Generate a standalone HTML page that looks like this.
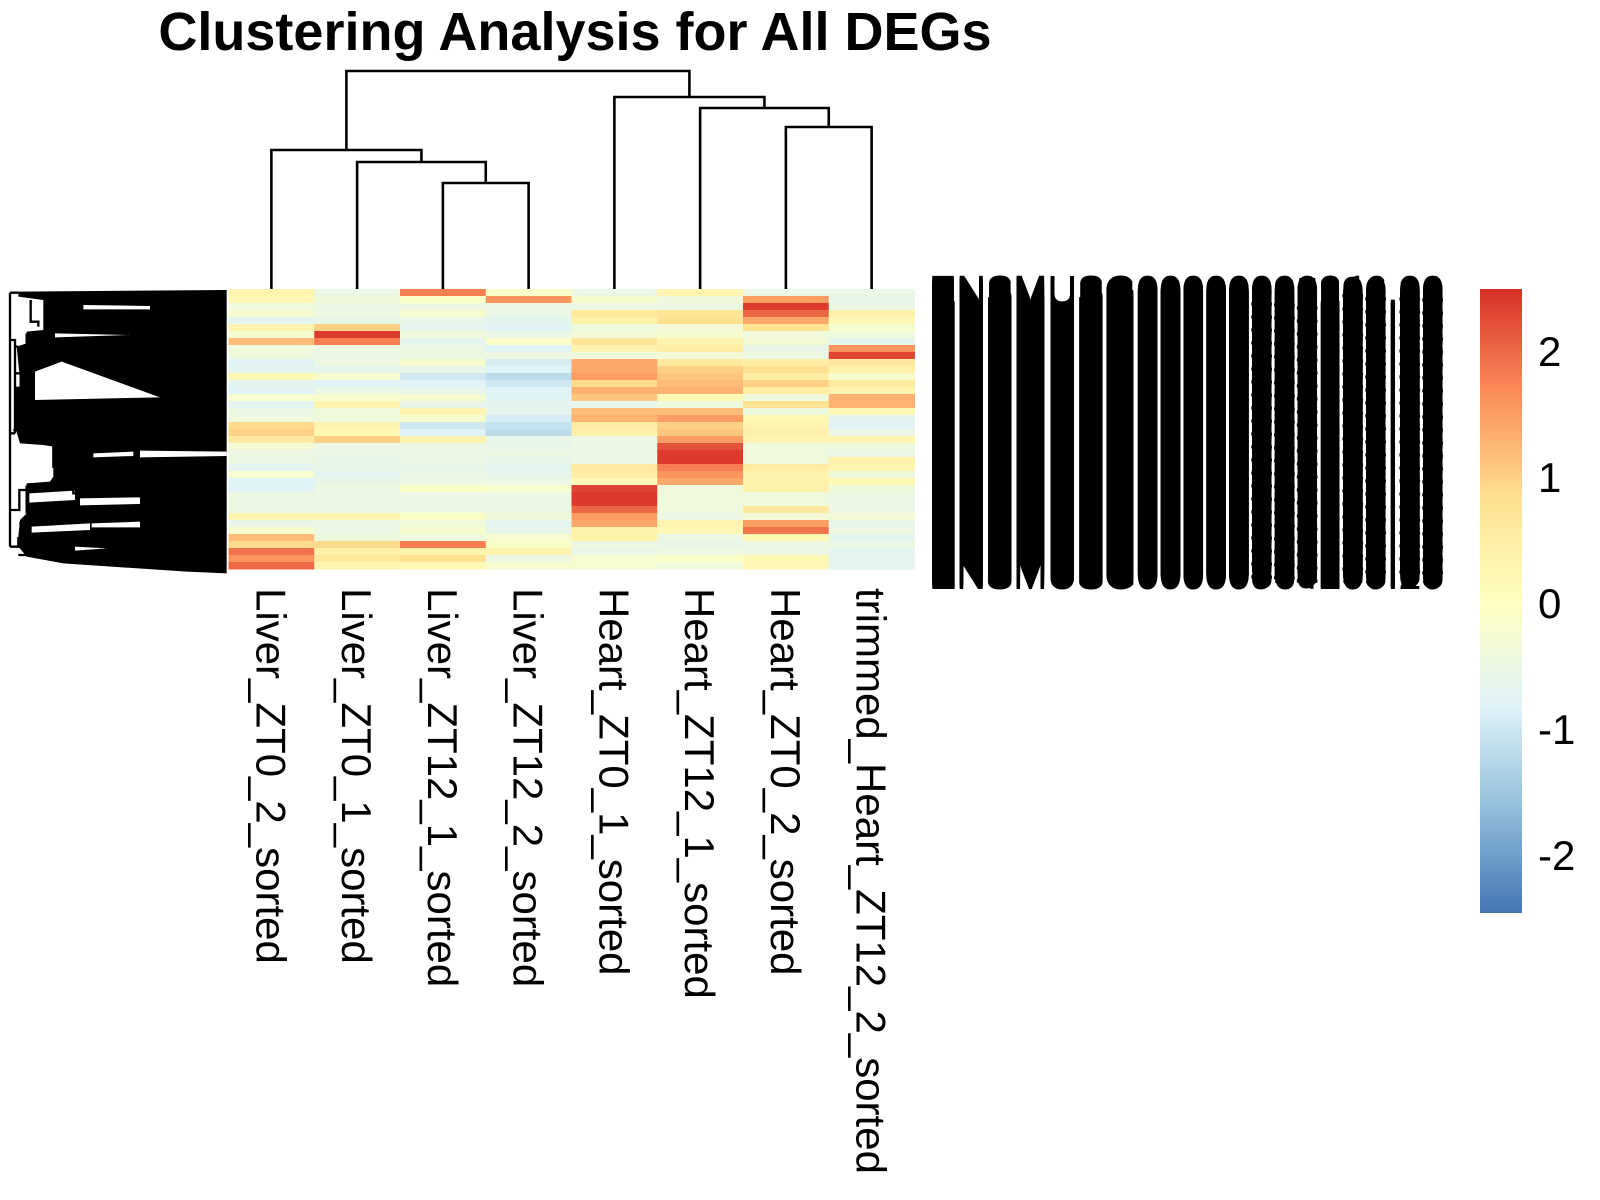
<!DOCTYPE html>
<html><head><meta charset="utf-8"><title>Clustering Analysis for All DEGs</title>
<style>html,body{margin:0;padding:0;background:#fff}svg{display:block}text{font-family:"Liberation Sans",Arial,sans-serif}</style>
</head><body>
<svg id="chart" xmlns="http://www.w3.org/2000/svg" width="1600" height="1200" viewBox="0 0 1600 1200">
<rect width="1600" height="1200" fill="#fff"/>
<text x="575" y="50" font-size="54" font-weight="bold" text-anchor="middle" fill="#000">Clustering Analysis for All DEGs</text>
<g id="rowDendro" transform="translate(0,280) scale(0.33333)">
  <polygon fill="#000" points="55,35 680,30 680,880 560,875 190,850 80,830 55,800 55,770 60,720 80,700 80,610 150,605 160,590 160,500 130,495 60,490 45,440 45,320 62,320 50,200 80,190 80,155 130,150 130,60 55,50"/>
  <polygon fill="#fff" points="105,275 185,245 480,352 105,360"/>
  <polygon fill="#fff" points="420,512 680,515 680,528 420,532"/>
  <polygon fill="#fff" points="88,640 225,632 225,660 88,668"/>
  <polygon fill="#fff" points="240,655 420,652 420,672 240,676"/>
  <polygon fill="#fff" points="250,75 450,78 450,88 250,88"/>
  <polygon fill="#fff" points="165,160 390,165 165,172"/>
  <polygon fill="#fff" points="95,740 270,730 270,750 95,758"/>
  <polygon fill="#fff" points="275,730 420,725 420,742 275,742"/>
  <polygon fill="#fff" points="225,800 320,805 225,812"/>
  <polygon fill="#fff" points="280,520 400,515 400,528 280,532"/>
  <g stroke="#000" stroke-width="7" fill="none">
    <path d="M30,38 V800 M30,38 H55 M30,180 H45 V460 M45,200 H55 M45,280 H62 V380 H100 M30,460 H45 M40,450 H62 V480 H90"/>
    <path d="M30,690 H58 V630 H80 V620 H145 M58,730 H80 M80,620 V700 M30,800 H55 V775 H80 M55,825 H90 M92,60 V125 H115 V140 M80,160 V190 H160"/>
    <path d="M150,620 H220 V640 H420 M230,640 V690 M160,500 V560 H220 V580 M220,520 H280"/>
  </g>
</g>
<g id="heat"></g>
<g id="colDendro"></g>
<g id="colLabels"></g>
<g id="rowLabels"></g>
<defs>
  <linearGradient id="lg" x1="0" y1="0" x2="0" y2="1">
    <stop offset="0" stop-color="#D73027"/><stop offset="0.1667" stop-color="#FC8D59"/>
    <stop offset="0.3333" stop-color="#FEE090"/><stop offset="0.5" stop-color="#FFFFBF"/>
    <stop offset="0.6667" stop-color="#E0F3F8"/><stop offset="0.8333" stop-color="#91BFDB"/>
    <stop offset="1" stop-color="#4575B4"/>
  </linearGradient>
</defs>
<g id="legend">
  <rect x="1480" y="289" width="42" height="624" fill="url(#lg)"/>
</g>
</svg>
<script>
const NS = "http://www.w3.org/2000/svg";
const sampleNames = ["Liver_ZT0_2_sorted","Liver_ZT0_1_sorted","Liver_ZT12_1_sorted","Liver_ZT12_2_sorted","Heart_ZT0_1_sorted","Heart_ZT12_1_sorted","Heart_ZT0_2_sorted","trimmed_Heart_ZT12_2_sorted"];
const liverZT0_2 = [0.3,0.2,-0.4,-0.2,-0.7,0.3,-0.2,1.2,-0.4,-0.4,-0.8,-0.7,0.2,-0.7,-0.8,-0.2,-0.7,-0.5,-0.4,0.9,1.0,0.6,-0.3,-0.5,-0.5,-0.7,-0.2,-0.8,-0.8,-0.5,-0.5,-0.5,0.3,-0.6,-0.2,1.2,0.9,1.9,1.6,2.0];
const liverZT0_1 = [-0.5,-0.4,-0.5,-0.5,-0.6,1.0,2.4,1.8,-0.5,-0.5,-0.5,-0.7,-0.2,-0.8,-0.5,-0.2,0.3,-0.4,-0.4,0.3,0.2,1.0,-0.5,-0.5,-0.6,-0.6,-0.7,-0.6,-0.5,-0.5,-0.5,-0.5,0.3,-0.5,-0.5,-0.4,0.9,0.4,0.6,0.3];
const liverZT12_1 = [1.8,-0.1,-0.5,-0.2,-0.6,-0.7,-0.4,-0.7,-0.5,-0.5,-0.2,-0.6,-1.0,-0.8,-0.6,-0.2,-0.6,0.3,-0.2,-1.0,-0.8,0.3,-0.5,-0.5,-0.5,-0.6,-0.5,-0.5,-0.1,-0.5,-0.5,-0.5,-0.1,-0.4,-0.2,-0.4,1.8,0.3,0.8,0.2];
const liverZT12_2 = [-0.1,1.6,-0.5,-0.5,-0.7,-0.8,-0.5,-0.1,-0.8,-0.5,-0.9,-0.8,-1.2,-1.0,-0.8,-0.8,-0.7,-0.7,-0.9,-1.1,-1.2,-0.6,-0.6,-0.5,-0.6,-0.7,-0.6,-0.5,-0.2,-0.5,-0.5,-0.5,-0.4,-0.7,-0.6,-0.2,-0.1,0.3,-0.5,-0.2];
const heartZT0_1 = [-0.5,-0.2,-0.5,0.6,0.4,-0.4,-0.3,0.7,0.3,-0.4,1.4,1.4,1.5,0.9,1.3,1.1,-0.6,1.2,1.3,0.5,0.4,-0.5,-0.5,-0.5,-0.5,0.6,0.5,0.2,2.3,2.4,2.4,2.0,1.5,1.4,0.4,0.4,-0.5,-0.6,-0.2,-0.2];
const heartZT12_1 = [0.3,-0.4,-0.5,0.7,0.8,-0.3,-0.2,0.3,0.5,-0.3,0.6,1.0,1.1,1.2,1.3,0.2,-0.4,1.2,1.5,1.0,1.1,1.5,2.2,2.4,2.4,1.8,1.6,1.4,-0.4,-0.4,-0.4,-0.4,-0.5,0.3,0.2,-0.5,-0.6,-0.5,-0.1,-0.4];
const heartZT0_2 = [-0.5,1.5,2.4,2.0,1.4,0.8,-0.4,-0.3,-0.6,-0.5,0.5,0.8,0.5,1.0,0.5,-0.4,0.8,-0.4,0.2,0.3,0.4,0.3,-0.4,-0.4,-0.4,0.5,0.3,0.4,0.4,-0.4,-0.4,0.6,-0.3,1.5,1.9,0.2,-0.5,-0.5,0.2,0.2];
const heartZT12_2 = [-0.5,-0.6,-0.5,0.4,0.2,-0.2,-0.4,-0.7,1.6,2.3,0.6,0.4,-0.2,0.6,0.3,1.3,1.3,0.2,-0.7,-0.8,-0.5,0.3,-0.4,-0.5,0.4,0.3,-0.4,0.2,-0.4,-0.5,-0.5,-0.5,-0.3,-0.6,-0.5,-0.7,-0.5,-0.7,-0.7,-0.7];
const legendTicks = [2,1,0,-1,-2];
const legendMin = -2.46, legendMax = 2.49;
const mergeA = [-3,-2,-1,-7,-6,-5,3];
const mergeB = [-4,1,2,-8,4,5,6];
const mergeHeights = [106,127,139,162,181,192,218];

const series = [liverZT0_2,liverZT0_1,liverZT12_1,liverZT12_2,heartZT0_1,heartZT12_1,heartZT0_2,heartZT12_2];
const hmLeft = 228.5, hmTop = 289, hmW = 686, hmH = 280;
const colW = hmW / sampleNames.length;
const xCol = c => hmLeft + c * colW;
const nRows = liverZT0_2.length;
const yRow = i => hmTop + i * hmH / nRows;
const rowH = hmH / nRows;
const palette = ["#4575B4","#91BFDB","#E0F3F8","#FFFFBF","#FEE090","#FC8D59","#D73027"];
function hex2rgb(h){return [1,3,5].map(k=>parseInt(h.substr(k,2),16));}
function color(v){
  let t = (v - legendMin)/(legendMax - legendMin);
  t = Math.max(0, Math.min(1, t)) * (palette.length - 1);
  const i = Math.min(Math.floor(t), palette.length - 2), f = t - i;
  const a = hex2rgb(palette[i]), b = hex2rgb(palette[i+1]);
  return "rgb(" + a.map((x,k)=>Math.round(x + (b[k]-x)*f)).join(",") + ")";
}
const heat = document.getElementById("heat");
series.forEach((vals, c) => {
  vals.forEach((v, i) => {
    const r = document.createElementNS(NS, "rect");
    r.setAttribute("x", xCol(c)); r.setAttribute("y", yRow(i));
    r.setAttribute("width", colW + 0.5); r.setAttribute("height", rowH + 0.5);
    r.setAttribute("fill", color(v));
    
    
    heat.appendChild(r);
  });
});
const cd = document.getElementById("colDendro");
const yDen = h => hmTop - h;
const nodeX = [], nodeH = [];
function nx(k){ return k < 0 ? xCol(-k - 1) + colW/2 : nodeX[k-1]; }
function nh(k){ return k < 0 ? 0 : nodeH[k-1]; }
let d = "";
mergeA.forEach((a, m) => {
  const b = mergeB[m], h = mergeHeights[m];
  const xa = nx(a), xb = nx(b);
  d += `M${xa},${yDen(nh(a))}V${yDen(h)}H${xb}V${yDen(nh(b))}`;
  nodeX.push((xa + xb)/2); nodeH.push(h);
});
const p = document.createElementNS(NS, "path");
p.setAttribute("d", d); p.setAttribute("fill", "none"); p.setAttribute("stroke", "#000"); p.setAttribute("stroke-width", "2.6");


cd.appendChild(p);
const cl = document.getElementById("colLabels");
sampleNames.forEach((n, c) => {
  const t = document.createElementNS(NS, "text");
  const cx = xCol(c) + colW/2 - 15;
  t.setAttribute("transform", `translate(${cx},588) rotate(90)`);
  t.setAttribute("font-size", "42"); t.setAttribute("fill", "#000");
  t.textContent = n;
  
  
  cl.appendChild(t);
});
const rl = document.getElementById("rowLabels");
const digits = "0000002345689";
for (let k = 0; k < 286; k++) {
  const t = document.createElementNS(NS, "text");
  let s = "";
  for (let j = 0; j < 6; j++) s += digits[(k * 131 + j * 977 + k * j * 17) % digits.length];
  t.setAttribute("x", "929"); t.setAttribute("y", 304 + k);
  t.setAttribute("font-size", "41"); t.setAttribute("fill", "#000");
  t.textContent = "ENSMUSG00000" + s + "." + digits[(k*7)%digits.length] + digits[(k*11+3)%digits.length];
  
  
  rl.appendChild(t);
}
const lg = document.getElementById("legend");
const yLeg = v => 289 + (legendMax - v) / (legendMax - legendMin) * 624;
legendTicks.forEach(v => {
  const t = document.createElementNS(NS, "text");
  t.setAttribute("x", "1538"); t.setAttribute("y", yLeg(v) + 15);
  t.setAttribute("font-size", "42"); t.setAttribute("fill", "#000");
  t.textContent = v < 0 ? "-" + Math.abs(v) : String(v);
  
  
  lg.appendChild(t);
});
</script>
</body></html>
